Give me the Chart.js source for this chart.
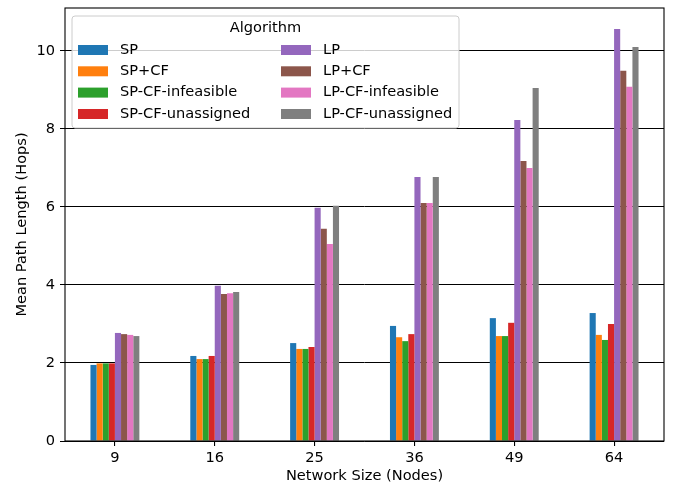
<!DOCTYPE html>
<html>
<head>
<meta charset="utf-8">
<script src="https://cdn.jsdelivr.net/npm/chart.js@4.4.1/dist/chart.umd.min.js"></script>
<style>
  html, body { margin: 0; padding: 0; background: #fff; }
  #wrap { width: 673px; height: 490px; }
</style>
</head>
<body>
<div id="wrap"><canvas id="pathChart" width="673" height="490"></canvas></div>
<script>
// Network sizes on the x axis
const networkSizes = ['9', '16', '25', '36', '49', '64'];

// Mean path length per algorithm (hops)
const sp            = [1.95, 2.18, 2.51, 2.95, 3.15, 3.28];
const spCf          = [1.99, 2.10, 2.36, 2.66, 2.69, 2.72];
const spCfInfeas    = [1.99, 2.10, 2.36, 2.56, 2.69, 2.59];
const spCfUnassign  = [1.99, 2.18, 2.41, 2.74, 3.03, 3.00];
const lp            = [2.77, 3.98, 5.98, 6.77, 8.23, 10.56];
const lpCf          = [2.74, 3.77, 5.44, 6.10, 7.18, 9.49];
const lpCfInfeas    = [2.72, 3.79, 5.05, 6.10, 7.00, 9.08];
const lpCfUnassign  = [2.69, 3.82, 6.03, 6.77, 9.05, 10.10];

const yTicks = [0, 2, 4, 6, 8, 10];

const seriesNames = ['SP', 'SP+CF', 'SP-CF-infeasible', 'SP-CF-unassigned',
                     'LP', 'LP+CF', 'LP-CF-infeasible', 'LP-CF-unassigned'];
const seriesData = [sp, spCf, spCfInfeas, spCfUnassign, lp, lpCf, lpCfInfeas, lpCfUnassign];
const colors = ['#1f77b4', '#ff7f0e', '#2ca02c', '#d62728',
                '#9467bd', '#8c564b', '#e377c2', '#7f7f7f'];

const FONT = 'DejaVu Sans';
const FSIZE = 14.6;

// draws the frame and the legend inside the plot area
const framePlugin = {
    id: 'frame',
    afterDraw(chart) {
        const ctx = chart.ctx;
        const a = chart.chartArea;
        ctx.save();
        ctx.strokeStyle = '#000';
        ctx.lineWidth = 1.1;
        ctx.strokeRect(a.left, a.top, a.right - a.left, a.bottom - a.top);

        // legend box
        const bx = 72, by = 16, bw = 387, bh = 112, r = 3;
        ctx.beginPath();
        ctx.moveTo(bx + r, by);
        ctx.arcTo(bx + bw, by, bx + bw, by + bh, r);
        ctx.arcTo(bx + bw, by + bh, bx, by + bh, r);
        ctx.arcTo(bx, by + bh, bx, by, r);
        ctx.arcTo(bx, by, bx + bw, by, r);
        ctx.closePath();
        ctx.fillStyle = 'rgba(255,255,255,0.8)';
        ctx.fill();
        ctx.strokeStyle = '#cccccc';
        ctx.lineWidth = 1;
        ctx.stroke();

        ctx.fillStyle = '#000';
        ctx.font = FSIZE + 'px "' + FONT + '"';
        ctx.textBaseline = 'middle';
        ctx.textAlign = 'center';
        ctx.fillText('Algorithm', bx + bw / 2, 28);

        ctx.textAlign = 'left';
        const rows = [50, 71.3, 92.6, 114];
        chart.data.datasets.forEach((ds, i) => {
            const col = Math.floor(i / 4);
            const row = i % 4;
            const sx = col === 0 ? 78 : 281;
            ctx.fillStyle = ds.backgroundColor;
            ctx.fillRect(sx, rows[row] - 5, 30, 10);
            ctx.fillStyle = '#000';
            ctx.fillText(ds.label, sx + 42, rows[row]);
        });
        ctx.restore();
    }
};

function plotChart() {
    const ctx = document.getElementById('pathChart').getContext('2d');
    const datasets = seriesNames.map((name, i) => ({
        label: name,
        data: seriesData[i],
        backgroundColor: colors[i],
        borderWidth: 0,
        categoryPercentage: 0.49,
        barPercentage: 1.0
    }));

    new Chart(ctx, {
        type: 'bar',
        data: { labels: networkSizes, datasets: datasets },
        options: {
            responsive: false,
            animation: false,
            layout: { padding: { top: 8, right: 9, left: 0, bottom: 0 } },
            plugins: {
                legend: { display: false },
                tooltip: { enabled: false }
            },
            scales: {
                x: {
                    grid: { display: true, drawOnChartArea: false, offset: false,
                            tickLength: 5, tickColor: '#000', lineWidth: 1.1 },
                    border: { display: false },
                    ticks: { color: '#000', padding: 3.5, font: { family: FONT, size: FSIZE } },
                    title: { display: true, text: 'Network Size (Nodes)', color: '#000',
                             padding: { top: 0, bottom: 5 }, font: { family: FONT, size: FSIZE } },
                    afterFit: s => { s.height = 49; s.paddingLeft = 0; s.paddingRight = 0; }
                },
                y: {
                    min: 0,
                    max: 11.1,
                    grid: { color: '#000', lineWidth: 1, tickLength: 5, tickColor: '#000' },
                    border: { display: false },
                    ticks: { stepSize: 2, color: '#000', padding: 5,
                             font: { family: FONT, size: FSIZE } },
                    afterBuildTicks: s => {
                        s.ticks = yTicks.map(v => ({ value: v }));
                    },
                    title: { display: true, text: 'Mean Path Length (Hops)', color: '#000',
                             padding: { top: 13, bottom: 0 }, font: { family: FONT, size: FSIZE } },
                    afterFit: s => { s.width = 65; s.paddingTop = 0; s.paddingBottom = 0; }
                }
            }
        },
        plugins: [framePlugin]
    });
}

plotChart();
</script>
</body>
</html>
